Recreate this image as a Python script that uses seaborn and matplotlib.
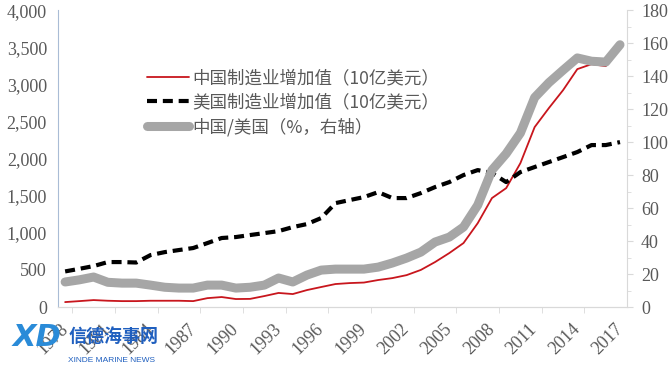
import numpy as np
import pandas as pd
import matplotlib
matplotlib.use("Agg")
import matplotlib.pyplot as plt
from matplotlib.ticker import FuncFormatter, MultipleLocator, FixedLocator
import seaborn as sns

# --- data ---
years = list(range(1978, 2018))

# China manufacturing value added (10亿美元), left axis
china_va = [67, 80, 94, 85, 80, 80, 85, 85, 85, 80,
            120, 135, 108, 110, 148, 190, 175, 229, 270, 310,
            323, 330, 364, 390, 430, 500, 606, 727, 862, 1130,
            1468, 1602, 1939, 2424, 2680, 2922, 3205, 3272, 3245, 3533]

# US manufacturing value added (10亿美元), left axis
us_va = [480, 515, 552, 606, 606, 600, 700, 740, 768, 795,
         862, 930, 943, 970, 996, 1023, 1077, 1118, 1199, 1400,
         1441, 1481, 1548, 1468, 1468, 1535, 1616, 1683, 1778, 1845,
         1805, 1683, 1818, 1886, 1953, 2020, 2088, 2182, 2182, 2222]

# China / US ratio (%), right axis
ratio = [15.2, 16.5, 18.2, 15.0, 14.5, 14.5, 13.3, 12.0, 11.5, 11.5,
         13.3, 13.3, 11.5, 12.0, 13.3, 17.6, 15.2, 19.4, 22.4, 23.0,
         23.0, 23.0, 24.2, 26.7, 29.7, 33.3, 39.4, 42.4, 48.5, 61.8,
         83.0, 93.0, 105.5, 127.0, 136.0, 143.6, 151.0, 149.0, 148.5, 159.0]

labels = ["中国制造业增加值（10亿美元）", "美国制造业增加值（10亿美元）", "中国/美国（%，右轴）"]
tick_years = list(range(1978, 2018, 3))

df = pd.DataFrame({"year": years, "china": china_va, "us": us_va, "ratio": ratio})

sns.set_style("white")
plt.rcParams["font.family"] = ["Liberation Serif", "Noto Sans CJK SC", "DejaVu Sans"]

text_col = "#595959"
fig = plt.figure(figsize=(6.7, 3.74), dpi=100)
ax = fig.add_axes([0.0866, 0.179, 0.8494, 0.794])
ax2 = ax.twinx()

sns.lineplot(data=df, x="year", y="china", ax=ax, color="#C8161D", linewidth=1.3)
sns.lineplot(data=df, x="year", y="us", ax=ax, color="black", linewidth=3.0)
ax.lines[-1].set_dashes((2.4, 1.4))
sns.lineplot(data=df, x="year", y="ratio", ax=ax2, color="#A6A6A6", linewidth=6.5,
             solid_capstyle="round")

ax.set_xlim(1977.5, 2017.5)
ax.set_ylim(0, 4000)
ax2.set_ylim(0, 180)
ax.set_xlabel("")
ax.set_ylabel("")
ax2.set_ylabel("")

ax.yaxis.set_major_locator(MultipleLocator(500))
ax.yaxis.set_major_formatter(FuncFormatter(lambda v, p: f"{int(v):,}"))
ax2.yaxis.set_major_locator(MultipleLocator(20))
ax2.yaxis.set_minor_locator(MultipleLocator(10))

ax.set_xticks(tick_years)
ax.set_xticklabels([str(y) for y in tick_years], rotation=45, ha="right",
                   va="center", rotation_mode="anchor")
ax.xaxis.set_minor_locator(FixedLocator([y + 0.5 for y in tick_years[:-1]]))

ax.tick_params(axis="x", which="major", length=0, pad=14, labelsize=13, labelcolor=text_col)
ax.tick_params(axis="x", which="minor", length=4, color="#D9D9D9", bottom=True)
ax.tick_params(axis="y", length=0, pad=8, labelsize=13, labelcolor=text_col)
ax2.tick_params(axis="y", which="major", length=4, color="#D9D9D9", pad=6,
                labelsize=13, labelcolor=text_col)
ax2.tick_params(axis="y", which="minor", length=3, color="#D9D9D9")

for a in (ax, ax2):
    a.spines["top"].set_visible(False)
    a.spines["bottom"].set_color("#D9D9D9")
    a.spines["left"].set_color("#A9BCD5")
    a.spines["right"].set_color("#D9D9D9")
ax.spines["right"].set_visible(False)
ax2.spines["left"].set_visible(False)

handles = [ax.lines[0], ax.lines[1], ax2.lines[0]]
leg = ax2.legend(handles, labels, loc="upper left", bbox_to_anchor=(0.128, 0.855),
                 frameon=False, handlelength=2.4, handletextpad=0.2, labelspacing=0.36,
                 prop={"family": ["Noto Sans CJK SC"], "size": 12.6})
for t in leg.get_texts():
    t.set_color(text_col)

# watermark
fig.text(0.018, 0.075, "XD", color="#2A8BD8", fontsize=22, fontweight="bold",
         family=["DejaVu Sans"], style="italic")
fig.text(0.103, 0.085, "信德海事网", color="#1F5FBF", fontsize=13, fontweight="bold",
         family=["Noto Sans CJK SC"])
fig.text(0.102, 0.032, "XINDE MARINE NEWS", color="#1F5FBF", fontsize=6,
         family=["Liberation Sans"])

fig.savefig("out.png", dpi=100)
